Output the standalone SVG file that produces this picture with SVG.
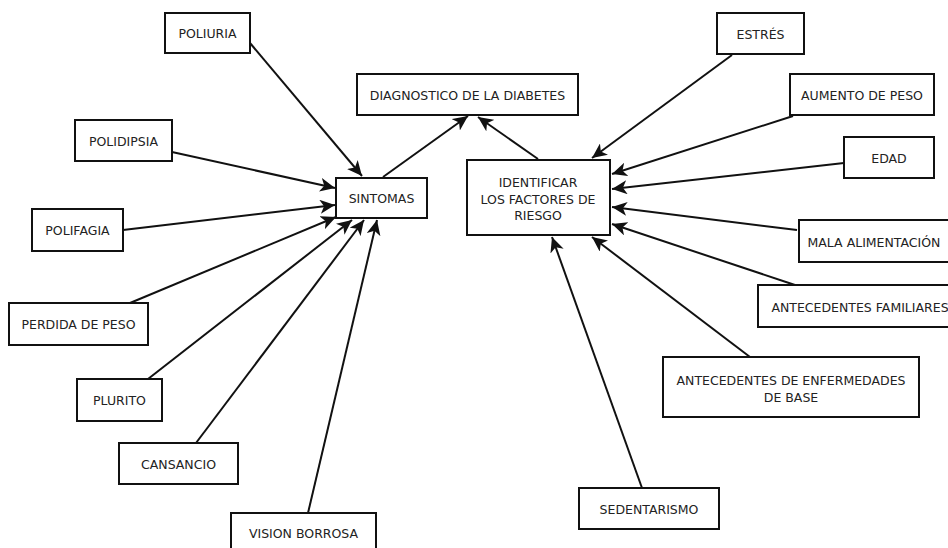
<svg xmlns="http://www.w3.org/2000/svg" width="948" height="548" viewBox="0 0 948 548">
  <style>
    .box { fill: #ffffff; stroke: #111111; stroke-width: 2; }
    .lbl { font-family: "DejaVu Sans", Verdana, sans-serif; font-size: 12.5px; fill: #222222; text-anchor: middle; dominant-baseline: central; }
    .edge { stroke: #111111; stroke-width: 2; fill: none; marker-end: url(#arrow); }
  </style>
  <defs>
    <marker id="arrow" markerUnits="userSpaceOnUse" markerWidth="18" markerHeight="14" refX="15" refY="7" orient="auto">
      <path d="M0,0 L15,7 L0,14 L4,7 Z" fill="#111111"/>
    </marker>
  </defs>
  <rect width="948" height="548" fill="#ffffff"/>

  <!-- connectors -->
  <g id="connectors">
    <line class="edge" x1="250" y1="43" x2="362" y2="176"/>
    <line class="edge" x1="172" y1="152" x2="335" y2="188"/>
    <line class="edge" x1="123" y1="230" x2="335" y2="205"/>
    <line class="edge" x1="130" y1="303" x2="336" y2="217"/>
    <line class="edge" x1="148" y1="379" x2="352" y2="220"/>
    <line class="edge" x1="196" y1="443" x2="364" y2="220"/>
    <line class="edge" x1="308" y1="513" x2="377" y2="220"/>
    <line class="edge" x1="383" y1="177" x2="468" y2="116"/>
    <line class="edge" x1="538" y1="159" x2="478" y2="117"/>
    <line class="edge" x1="732" y1="55" x2="592" y2="158"/>
    <line class="edge" x1="793" y1="116" x2="612" y2="174"/>
    <line class="edge" x1="844" y1="163" x2="612" y2="189"/>
    <line class="edge" x1="797" y1="230" x2="612" y2="207"/>
    <line class="edge" x1="795" y1="285" x2="612" y2="224"/>
    <line class="edge" x1="750" y1="357" x2="592" y2="237"/>
    <line class="edge" x1="642" y1="488" x2="552" y2="237"/>
  </g>

  <!-- nodes -->
  <g id="diagnostico">
    <rect class="box" x="357" y="74" width="221" height="41"/>
    <text class="lbl" x="467.5" y="95">DIAGNOSTICO DE LA DIABETES</text>
  </g>
  <g id="sintomas">
    <rect class="box" x="336" y="178" width="91" height="40"/>
    <text class="lbl" x="381.5" y="198">SINTOMAS</text>
  </g>
  <g id="factores">
    <rect class="box" x="467" y="160" width="143" height="75"/>
    <text class="lbl" x="538" y="182">IDENTIFICAR</text>
    <text class="lbl" x="538" y="199">LOS FACTORES DE</text>
    <text class="lbl" x="538" y="215">RIESGO</text>
  </g>
  <g id="poliuria">
    <rect class="box" x="165" y="13" width="85" height="40"/>
    <text class="lbl" x="207.5" y="33">POLIURIA</text>
  </g>
  <g id="polidipsia">
    <rect class="box" x="75" y="120" width="97" height="41"/>
    <text class="lbl" x="123.5" y="141">POLIDIPSIA</text>
  </g>
  <g id="polifagia">
    <rect class="box" x="32" y="209" width="91" height="42"/>
    <text class="lbl" x="77.5" y="230">POLIFAGIA</text>
  </g>
  <g id="perdida-peso">
    <rect class="box" x="9" y="303" width="139" height="42"/>
    <text class="lbl" x="78.5" y="324">PERDIDA DE PESO</text>
  </g>
  <g id="plurito">
    <rect class="box" x="77" y="379" width="85" height="42"/>
    <text class="lbl" x="119.5" y="400">PLURITO</text>
  </g>
  <g id="cansancio">
    <rect class="box" x="119" y="443" width="119" height="41"/>
    <text class="lbl" x="178.5" y="464">CANSANCIO</text>
  </g>
  <g id="vision-borrosa">
    <rect class="box" x="231" y="513" width="145" height="45"/>
    <text class="lbl" x="303.5" y="533">VISION BORROSA</text>
  </g>
  <g id="estres">
    <rect class="box" x="717" y="13" width="87" height="41"/>
    <text class="lbl" x="760.5" y="34">ESTRÉS</text>
  </g>
  <g id="aumento-peso">
    <rect class="box" x="790" y="74" width="144" height="41"/>
    <text class="lbl" x="862" y="95">AUMENTO DE PESO</text>
  </g>
  <g id="edad">
    <rect class="box" x="844" y="137" width="90" height="41"/>
    <text class="lbl" x="889" y="158">EDAD</text>
  </g>
  <g id="mala-alimentacion">
    <rect class="box" x="799" y="220" width="160" height="42"/>
    <text class="lbl" x="874" y="242">MALA ALIMENTACIÓN</text>
  </g>
  <g id="antecedentes-familiares">
    <rect class="box" x="758" y="285" width="200" height="42"/>
    <text class="lbl" x="860" y="307">ANTECEDENTES FAMILIARES</text>
  </g>
  <g id="antecedentes-enfermedades">
    <rect class="box" x="663" y="357" width="256" height="60"/>
    <text class="lbl" x="791" y="380">ANTECEDENTES DE ENFERMEDADES</text>
    <text class="lbl" x="791" y="397">DE BASE</text>
  </g>
  <g id="sedentarismo">
    <rect class="box" x="579" y="488" width="140" height="41"/>
    <text class="lbl" x="649" y="509">SEDENTARISMO</text>
  </g>
</svg>
